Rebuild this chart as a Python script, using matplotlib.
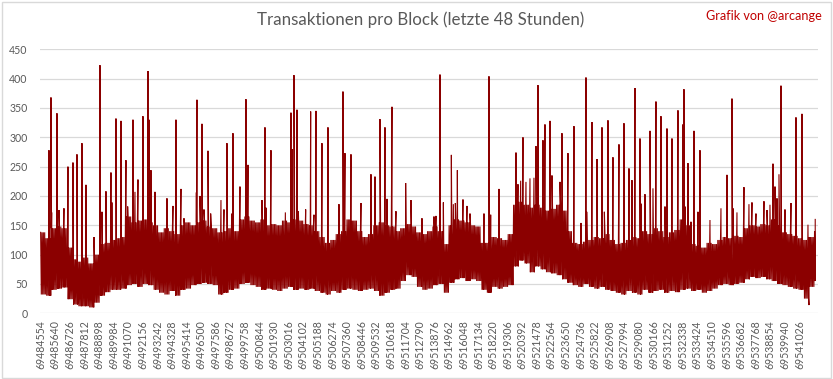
import matplotlib
matplotlib.use("Agg")
import matplotlib.pyplot as plt
from matplotlib.patches import Rectangle
import numpy as np

# ---------------- data ----------------
first_block = 69484554
n_blocks = 57700
tick_step = 1086
n_ticks = 53
bin_size = 400

# upper / lower edge of the dense band, one value per 400-block bin
band_hi = [138, 128, 145, 148, 145, 112, 92, 88, 95, 85,
           100, 118, 120, 125, 128, 130, 165, 155, 158, 160,
           155, 150, 138, 145, 140, 135, 150, 155, 150, 155,
           158, 148, 145, 138, 140, 145, 140, 160, 165, 158,
           155, 160, 150, 152, 150, 158, 155, 160, 158, 152,
           150, 140, 130, 120, 125, 135, 140, 160, 158, 140,
           130, 135, 150, 155, 150, 148, 140, 145, 152, 148,
           138, 135, 140, 148, 140, 118, 150, 160, 158, 155,
           150, 148, 120, 120, 130, 128, 125, 135, 185, 190,
           185, 180, 185, 180, 175, 178, 185, 175, 140, 120,
           118, 122, 125, 130, 128, 135, 125, 118, 120, 125,
           130, 128, 140, 135, 145, 140, 130, 138, 142, 160,
           150, 118, 115, 112, 120, 118, 125, 130, 128, 132,
           130, 145, 150, 148, 152, 150, 160, 150, 138, 135,
           132, 128, 125, 130, 140]
band_lo = [32, 30, 40, 42, 44, 24, 15, 12, 12, 10,
           18, 30, 36, 40, 40, 42, 48, 50, 45, 50,
           48, 40, 35, 32, 38, 30, 40, 42, 48, 50,
           52, 50, 48, 32, 35, 40, 42, 50, 52, 48,
           45, 40, 42, 40, 38, 42, 45, 40, 42, 40,
           42, 38, 35, 32, 38, 35, 40, 42, 40, 38,
           40, 42, 38, 30, 35, 40, 42, 55, 65, 62,
           45, 40, 42, 48, 50, 35, 52, 58, 60, 55,
           58, 55, 40, 35, 45, 42, 45, 48, 80, 90,
           85, 70, 80, 75, 70, 68, 65, 58, 52, 48,
           45, 50, 45, 42, 45, 40, 38, 35, 32, 38,
           35, 32, 40, 35, 38, 40, 35, 38, 36, 40,
           42, 38, 40, 35, 38, 42, 48, 50, 48, 50,
           52, 58, 62, 60, 62, 58, 55, 50, 48, 45,
           42, 40, 25, 45, 55]

# individual spikes (block number, transactions)
spike_block = [69485172, 69485321, 69485373, 69485767, 69485916, 69486288, 69486586,
               69486958, 69487256, 69487628, 69487926, 69488521, 69488968, 69489117,
               69489414, 69489786, 69489891, 69490159, 69490531, 69490903, 69491029,
               69491424, 69491573, 69491796, 69492168, 69492540, 69492615, 69492764,
               69493061, 69493954, 69494401, 69494624, 69494996, 69495220, 69496143,
               69496187, 69496411, 69496560, 69496708, 69497006, 69497207, 69497974,
               69498197, 69498420, 69498792, 69498867, 69499388, 69499835, 69499887,
               69499984, 69501025, 69501249, 69501323, 69501695, 69502767, 69503184,
               69503258, 69503407, 69503630, 69503734, 69504278, 69504650, 69504896,
               69505045, 69505491, 69505938, 69506757, 69507054, 69507203, 69507650,
               69508394, 69509138, 69509436, 69509808, 69510180, 69510329, 69510701,
               69510999, 69511721, 69512115, 69512934, 69513827, 69513976, 69514274,
               69514527, 69515122, 69515271, 69515420, 69515569, 69515986, 69516284,
               69516507, 69517549, 69517921, 69518048, 69518666, 69519931, 69520080,
               69520280, 69520452, 69520675, 69520973, 69521270, 69521419, 69521568,
               69521940, 69522089, 69522461, 69522610, 69523205, 69523354, 69523801,
               69524248, 69524769, 69525141, 69525215, 69525587, 69525960, 69526332,
               69526510, 69526778, 69527150, 69527597, 69527969, 69528341, 69528564,
               69528787, 69529160, 69529234, 69529532, 69529904, 69530127, 69530350,
               69530723, 69531020, 69531169, 69531541, 69531988, 69532360, 69532434,
               69532509, 69532732, 69532955, 69533179, 69533476, 69533625, 69534370,
               69535188, 69535635, 69536007, 69536082, 69536379, 69536900, 69537272,
               69537496, 69537793, 69538389, 69538612, 69538835, 69539059, 69539208,
               69539357, 69539505, 69539654, 69539952, 69540399, 69540771, 69541217,
               69541664, 69541739, 69542204]
spike_val = [278, 368, 172, 341, 176, 179, 250,
             257, 271, 290, 219, 130, 423, 173,
             208, 240, 189, 332, 328, 261, 182,
             330, 207, 228, 336, 413, 330, 244,
             207, 196, 183, 330, 212, 162, 206,
             364, 200, 323, 177, 277, 170, 193,
             177, 290, 170, 307, 216, 365, 198,
             253, 193, 317, 180, 278, 172, 342,
             280, 406, 347, 174, 177, 344, 168,
             345, 290, 317, 186, 378, 273, 271,
             188, 237, 233, 331, 317, 195, 352,
             174, 222, 193, 162, 165, 166, 407,
             189, 270, 186, 188, 244, 194, 183,
             170, 170, 404, 168, 212, 274, 220,
             226, 300, 224, 230, 231, 285, 389,
             295, 322, 328, 235, 224, 307, 273,
             319, 154, 402, 173, 326, 263, 317,
             173, 329, 266, 288, 324, 247, 227,
             384, 298, 187, 203, 311, 213, 361,
             336, 182, 315, 298, 346, 322, 382,
             182, 256, 156, 311, 173, 278, 159,
             179, 236, 366, 179, 172, 215, 186,
             189, 170, 191, 176, 185, 255, 216,
             196, 237, 388, 177, 188, 334, 340,
             151, 14, 160]

y_ticks = [0, 50, 100, 150, 200, 250, 300, 350, 400, 450]
title = "Transaktionen pro Block (letzte 48 Stunden)"
credit = "Grafik von @arcange"

# ---------------- build the series ----------------
xs, ys = [], []
sub = 8
for i, (h, l) in enumerate(zip(band_hi, band_lo)):
    start = first_block + i * bin_size
    for k in range(sub):
        b = start + k * bin_size // sub
        if b >= first_block + n_blocks:
            break
        xs.append(b)
        ys.append(h if k % 2 == 0 else l)
xs += spike_block
ys += spike_val
order = np.argsort(xs, kind="stable")
xs = np.array(xs)[order]
ys = np.array(ys)[order]

# ---------------- figure ----------------
plt.rcParams['font.family'] = ['Lato', 'DejaVu Sans']
fig = plt.figure(figsize=(8.33, 3.79), dpi=100)
ax = fig.add_axes([0.048, 0.1734, 0.934, 0.6965])

ax.plot(xs, ys, color='#8B0000', lw=0.8, zorder=3, solid_joinstyle='miter')

left = first_block - 50
ax.set_xlim(left, left + 57907)
ax.set_ylim(0, 450)
ax.set_yticks(y_ticks)
ax.set_yticklabels([str(v) for v in y_ticks])
ticks = [first_block + k * tick_step for k in range(n_ticks)]
ax.set_xticks(ticks)
ax.set_xticklabels([str(t) for t in ticks], rotation=90)
ax.tick_params(axis='both', length=0, colors='#595959', labelsize=7.6)
ax.tick_params(axis='x', pad=5)
ax.tick_params(axis='y', pad=9)
ax.grid(axis='y', color='#D9D9D9', lw=0.9, zorder=0)
ax.set_axisbelow(True)
for s in ax.spines.values():
    s.set_visible(False)

fig.text(0.505, 0.948, title, ha='center', va='center', color='#595959', fontsize=12.2)
fig.text(0.986, 0.958, credit, ha='right', va='center', color='#C00000', fontsize=9.1)

fig.patches.append(Rectangle((0.002, 0.003), 0.995, 0.993, transform=fig.transFigure,
                             fill=False, edgecolor='#D9D9D9', lw=1))

fig.savefig('out.png', dpi=100)
